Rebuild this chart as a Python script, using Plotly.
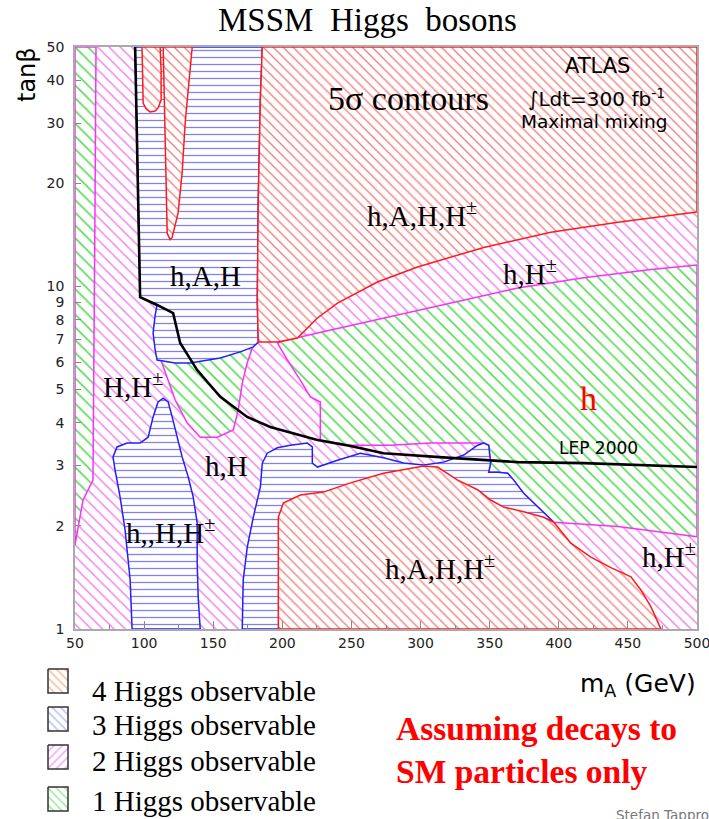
import math
import plotly.graph_objects as go

W, H = 709, 819
PLOT_L, PLOT_R, PLOT_T, PLOT_B = 75, 697, 47, 629

# ---------------- axis values ----------------
x_ticks = [50, 100, 150, 200, 250, 300, 350, 400, 450, 500]
y_ticks = [1, 2, 3, 4, 5, 6, 7, 8, 9, 10, 20, 30, 40, 50]
y_tick_labels = [str(v) for v in y_ticks]

# ---------------- LEP 2000 exclusion curve ----------------
lep_mA = [93.5, 94.2, 94.9, 95.7, 96.4, 97.1, 109.4, 121.0, 126.1, 138.4, 155.1, 174.6,
          191.3, 213.0, 225.4, 249.3, 273.2, 321.7, 370.3, 418.1, 500.0]
lep_tb = [50, 35.0, 25.0, 17.9, 12.8, 9.31, 8.83, 8.36, 6.84, 5.70, 4.76, 4.16,
          3.89, 3.68, 3.56, 3.42, 3.26, 3.16, 3.07, 3.05, 2.97]

# ---------------- 2 Higgs (background) ----------------
magenta_all_mA = [50, 500, 500, 50]
magenta_all_tb = [1, 1, 50, 50]

# ---------------- 1 Higgs regions ----------------
green_strip_mA = [50, 65.2, 64.5, 63.7, 63.0, 55.8, 51.4, 50]
green_strip_tb = [50, 50, 17.9, 6.98, 2.72, 2.38, 1.86, 1.76]

green_pocket_mA = [111.6, 116.7, 122.5, 131.2, 140.6, 152.9, 164.5, 168.1, 171.0, 174.6, 179.0, 140.6, 111.6]
green_pocket_tb = [6.18, 5.44, 4.66, 3.99, 3.63, 3.63, 3.81, 4.36, 5.22, 5.98, 6.75, 6.98, 6.98]

green_main_mA = [196.4, 200.7, 225.4, 273.2, 321.7, 370.3, 418.1, 466.7, 500, 500, 442.8, 399.3,
                 396.4, 384.8, 374.6, 367.4, 363.0, 355.8, 349.3, 350.7, 349.3, 345.7, 336.2,
                 307.2, 278.3, 249.3, 227.5, 227.5, 220.3, 213.0, 203.6]
green_main_tb = [6.84, 6.93, 7.31, 8.09, 8.94, 9.90, 10.6, 11.2, 11.55, 1.86, 1.99, 2.05,
                 2.05, 2.27, 2.49, 2.72, 2.85, 2.87, 2.87, 3.05, 3.44, 3.49, 3.49,
                 3.49, 3.44, 3.44, 3.56, 4.60, 4.76, 5.33, 6.10]

# ---------------- 3 Higgs regions ----------------
blue_upper_mA = [93.5, 185.5, 184.1, 182.6, 181.9, 182.6, 179.0, 169.6, 155.1, 133.3, 122.5, 109.4,
                 108.0, 106.5, 108.0, 109.4, 97.1, 96.4, 95.7, 94.9, 94.2]
blue_upper_tb = [50, 50, 35.0, 17.9, 9.12, 6.88, 6.66, 6.44, 6.18, 5.98, 5.98, 6.10,
                 6.52, 7.31, 8.25, 8.83, 9.31, 12.8, 17.9, 25.0, 35.0]

blue_left_mA = [91.3, 89.9, 86.2, 82.6, 79.0, 77.5, 80.4, 87.7, 97.1, 102.9, 106.5, 110.1, 113.8,
                117.4, 120.3, 122.5, 127.5, 131.9, 135.5, 138.4, 138.4, 139.1, 140.6]
blue_left_tb = [1.0, 1.39, 1.95, 2.43, 2.91, 3.18, 3.40, 3.49, 3.49, 3.63, 4.16, 4.60, 4.72,
                4.60, 4.16, 3.81, 3.18, 2.78, 2.43, 2.04, 1.56, 1.24, 1.0]

blue_mid_mA = [171.0, 171.7, 174.6, 179.0, 184.1, 185.5, 189.1, 196.4, 205.8, 218.1, 221.7, 221.7,
               225.4, 239.9, 256.5, 273.2, 287.7, 302.2, 316.7, 331.2, 341.3, 345.7, 349.3,
               350.7, 349.3, 355.8, 363.0, 367.4, 374.6, 384.8, 396.4, 321.7]
blue_mid_tb = [1.0, 1.39, 1.73, 2.12, 2.60, 3.05, 3.26, 3.38, 3.44, 3.49, 3.40, 3.05,
               2.97, 3.11, 3.26, 3.16, 3.05, 3.01, 3.07, 3.22, 3.44, 3.49, 3.44,
               3.05, 2.87, 2.87, 2.85, 2.72, 2.49, 2.27, 2.05, 1.0]

# ---------------- 4 Higgs regions ----------------
red_upper_mA = [185.5, 500, 500, 442.8, 394.2, 345.7, 297.8, 268.8, 239.9, 225.4, 210.9, 196.4,
                182.6, 181.9, 182.6, 184.1]
red_upper_tb = [50, 50, 16.5, 15.4, 14.4, 13.0, 11.4, 10.3, 8.94, 8.09, 7.07, 6.88,
                6.88, 9.12, 17.9, 35.0]

red_lobe1_mA = [98.5, 99.3, 101.4, 104.3, 108.0, 110.1, 112.3, 112.3, 111.6]
red_lobe1_tb = [50, 34.3, 33.0, 32.3, 32.5, 33.2, 35.0, 42.8, 50]

red_lobe2_mA = [113.8, 114.5, 115.2, 115.9, 116.7, 118.8, 120.3, 124.6, 127.5, 129.7, 133.3, 134.8]
red_lobe2_tb = [50, 37.4, 26.7, 19.1, 14.3, 13.7, 13.9, 16.4, 21.4, 30.0, 42.0, 50]

red_lower_mA = [197.1, 197.1, 200.7, 213.0, 229.7, 249.3, 273.2, 302.2, 312.3, 326.8, 341.3, 350.7,
                360.1, 374.6, 389.1, 396.4, 408.7, 423.2, 437.7, 452.2, 459.4, 466.7, 473.9]
red_lower_tb = [1.0, 2.12, 2.33, 2.46, 2.51, 2.67, 2.85, 2.99, 2.97, 2.72, 2.55, 2.38,
                2.27, 2.20, 2.12, 2.05, 1.78, 1.62, 1.51, 1.42, 1.30, 1.16, 1.0]

# ---------------- legend ----------------
legend_labels = ["4 Higgs observable", "3 Higgs observable", "2 Higgs observable", "1 Higgs observable"]
legend_colors = ["#f08a4a", "#7f8cf0", "#ee5cee", "#4fd84f"]
legend_shapes = ["\\", "\\", "/", "\\"]

# colours
RED_H, RED_L = "#f27a7a", "#ff1a1a"
BLUE_H, BLUE_L = "#8080f0", "#2020ff"
MAG_H, MAG_L = "#f07ef0", "#ff2cff"
GRN_H = "#5cdc5c"


def region(xs, ys, hatch, shape, size, line_color, lw=1.5):
    return go.Scatter(
        x=list(xs) + [xs[0]], y=list(ys) + [ys[0]], mode="lines", fill="toself",
        fillcolor="white",
        fillpattern=dict(shape=shape, fgcolor=hatch, bgcolor="white", size=size,
                         solidity=0.18, fillmode="replace"),
        line=dict(color=line_color, width=lw), hoverinfo="skip", showlegend=False,
        xaxis="x", yaxis="y")


fig = go.Figure()
fig.add_trace(region(magenta_all_mA, magenta_all_tb, MAG_H, "\\", 8, "rgba(0,0,0,0)", 0))
fig.add_trace(region(green_strip_mA, green_strip_tb, GRN_H, "\\", 9, MAG_L))
fig.add_trace(region(green_pocket_mA, green_pocket_tb, GRN_H, "\\", 9, MAG_L))
fig.add_trace(region(green_main_mA, green_main_tb, GRN_H, "\\", 9, MAG_L))
fig.add_trace(region(blue_upper_mA, blue_upper_tb, BLUE_H, "-", 7, BLUE_L))
fig.add_trace(region(blue_left_mA, blue_left_tb, BLUE_H, "-", 7, BLUE_L))
fig.add_trace(region(blue_mid_mA, blue_mid_tb, BLUE_H, "-", 7, BLUE_L))
fig.add_trace(region(red_upper_mA, red_upper_tb, RED_H, "\\", 7, RED_L))
fig.add_trace(region(red_lobe1_mA, red_lobe1_tb, RED_H, "\\", 7, RED_L))
fig.add_trace(region(red_lobe2_mA, red_lobe2_tb, RED_H, "\\", 7, RED_L))
fig.add_trace(region(red_lower_mA, red_lower_tb, RED_H, "\\", 7, RED_L))
fig.add_trace(go.Scatter(x=lep_mA, y=lep_tb, mode="lines", line=dict(color="black", width=2.6),
                         hoverinfo="skip", showlegend=False))

# legend swatches on an auxiliary pixel-unit axis (bottom-left corner)
BOX_L, BOX_W, BOX_H = 48, 20, 24
box_tops = [669, 707, 745, 787]
text_rows = [691, 725, 761, 801]
for lab, col, shp, top in zip(legend_labels, legend_colors, legend_shapes, box_tops):
    fig.add_trace(go.Scatter(
        x=[BOX_L, BOX_L + BOX_W, BOX_L + BOX_W, BOX_L, BOX_L],
        y=[top, top, top + BOX_H, top + BOX_H, top],
        mode="lines", fill="toself", fillcolor="white",
        fillpattern=dict(shape=shp, fgcolor=col, bgcolor="white", size=6, solidity=0.3),
        line=dict(color="#333", width=1.5), hoverinfo="skip", showlegend=False,
        xaxis="x2", yaxis="y2"))


def px(x):
    return x / W


def py(y):
    return 1 - y / H


SERIF = "Liberation Serif, Times New Roman, serif"
SANS = "DejaVu Sans, Verdana, sans-serif"

annotations = []


def txt(t, x, y, size, font=SERIF, color="black", xanchor="center", angle=0, bold=False):
    annotations.append(dict(text=t, x=px(x), y=py(y), xref="paper", yref="paper",
                            showarrow=False, xanchor=xanchor, yanchor="middle",
                            textangle=angle,
                            font=dict(family=font, size=size, color=color,
                                      weight="bold" if bold else "normal")))


txt("MSSM  Higgs  bosons", 367, 20, 33)
txt("5σ contours", 408, 98, 34)
txt("ATLAS", 597, 66, 21, SANS)
txt("∫Ldt=300 fb<sup>-1</sup>", 596, 98, 20, SANS)
txt("Maximal mixing", 594, 121, 18.5, SANS)
txt("h,A,H,H<sup>±</sup>", 422, 214, 29)
txt("h,H<sup>±</sup>", 530, 272, 29)
txt("h,A,H", 205, 276, 29)
txt("H,H<sup>±</sup>", 133, 385, 29)
txt("h", 588, 398, 34, color="#ff0000")
txt("LEP 2000", 598, 448, 17, SANS)
txt("h,H", 226, 466, 29)
txt("h,,H,H<sup>±</sup>", 170, 531, 29)
txt("h,A,H,H<sup>±</sup>", 440, 567, 29)
txt("h,H<sup>±</sup>", 669, 555, 29)
txt("tanβ", 27, 75, 24, SANS, angle=-90)
txt("m<sub>A</sub> (GeV)", 638, 685, 25, SANS)
for lab, row in zip(legend_labels, text_rows):
    txt(lab, 90, row, 29, xanchor="left")
txt("Assuming decays to", 536, 728, 33.5, color="#ff0000", bold=True)
txt("SM particles only", 521, 771, 33.5, color="#ff0000", bold=True)
txt("Stefan Tappro", 614, 815, 13.5, SANS, color="#777", xanchor="left")

fig.update_layout(
    width=W, height=H, margin=dict(l=0, r=0, t=0, b=0),
    paper_bgcolor="white", plot_bgcolor="rgba(0,0,0,0)",
    showlegend=False, annotations=annotations,
    xaxis=dict(domain=[PLOT_L / W, PLOT_R / W], range=[50, 500], tickvals=x_ticks,
               ticks="inside", ticklen=8, tickcolor="#888", tickwidth=1,
               minor=dict(ticks="inside", ticklen=4, dtick=25, tickcolor="#888"),
               showline=True, mirror=True, linecolor="#aaa", linewidth=1.5,
               showgrid=False, zeroline=False, automargin=False, ticklabeloverflow="allow",
               tickfont=dict(family=SANS, size=14, color="#222")),
    yaxis=dict(domain=[1 - PLOT_B / H, 1 - PLOT_T / H], type="log",
               range=[0, math.log10(50)], tickvals=y_ticks, ticktext=y_tick_labels,
               ticks="inside", ticklen=6, tickcolor="#888",
               showline=True, mirror=True, linecolor="#aaa", linewidth=1.5,
               showgrid=False, zeroline=False, automargin=False, ticklabelstandoff=6,
               tickfont=dict(family=SANS, size=14, color="#222")),
    xaxis2=dict(domain=[0, 0.2], range=[0, 0.2 * W], visible=False, anchor="y2"),
    yaxis2=dict(domain=[0, 0.2], range=[H, H - 0.2 * H], visible=False, anchor="x2"),
)

fig.write_html("out.html", config={"displayModeBar": False},
               post_script="document.body.style.margin='0px';document.body.style.overflow='hidden';")
